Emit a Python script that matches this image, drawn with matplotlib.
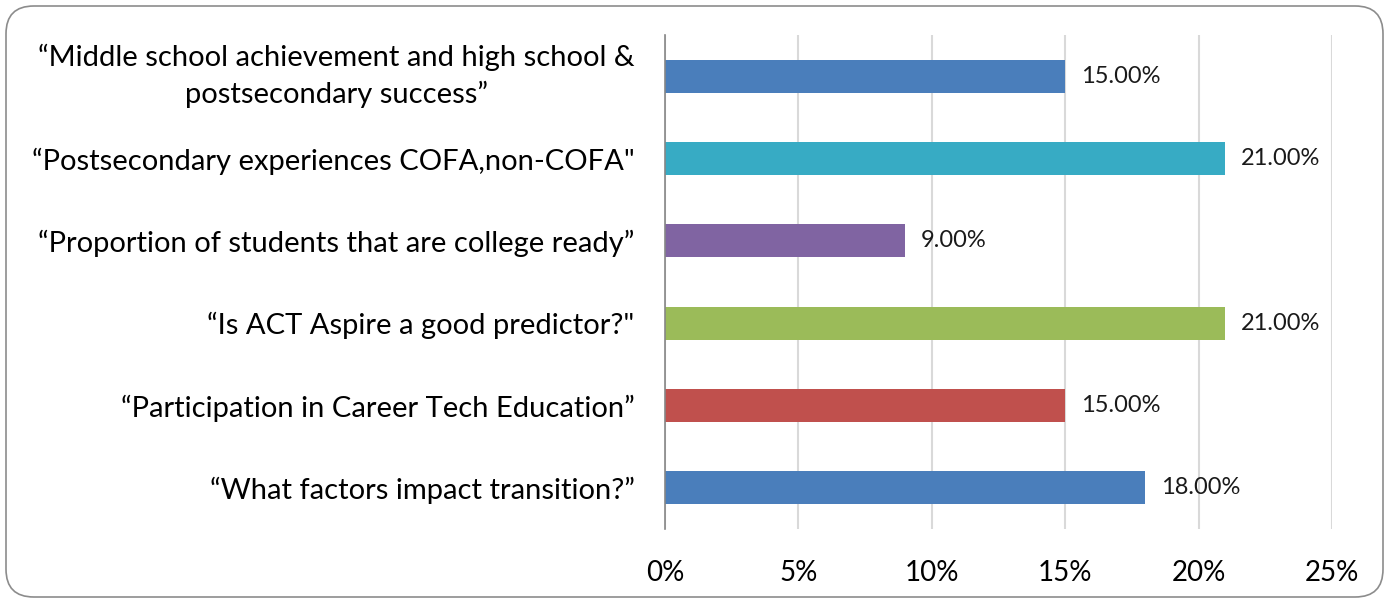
import matplotlib
matplotlib.use("Agg")
import matplotlib.pyplot as plt
from matplotlib.patches import FancyBboxPatch

categories = [
    "\u201cMiddle school achievement and high school &\npostsecondary success\u201d",
    "\u201cPostsecondary experiences COFA,non-COFA\"",
    "\u201cProportion of students that are college ready\u201d",
    "\u201cIs ACT Aspire a good predictor?\"",
    "\u201cParticipation in Career Tech Education\u201d",
    "\u201cWhat factors impact transition?\u201d",
]
values = [15.0, 21.0, 9.0, 21.0, 15.0, 18.0]
colors = ["#4A7EBB", "#37ABC4", "#8064A2", "#9BBB59", "#C0504D", "#4A7EBB"]
xticks = [0, 5, 10, 15, 20, 25]
xtick_labels = ["0%", "5%", "10%", "15%", "20%", "25%"]

plt.rcParams['font.family'] = ['Lato', 'DejaVu Sans']

fig = plt.figure(figsize=(13.89, 6.03), dpi=100)
border = FancyBboxPatch((6/1389, 6/603), 1377/1389, 591/603,
                        boxstyle="round,pad=0,rounding_size=0.02",
                        transform=fig.transFigure, facecolor="none",
                        edgecolor="#8C8C8C", linewidth=1.2, mutation_aspect=1389/603,
                        zorder=-1)
fig.patches.append(border)

ax = fig.add_axes([665/1389, 1 - 529/603, (1332 - 665)/1389, (529 - 35)/603])
ax.set_facecolor("none")
n = len(categories)
ypos = list(range(n))
ax.barh(ypos, values, height=0.4, color=colors, zorder=3)
ax.set_ylim(n - 0.5, -0.5)
ax.set_xlim(0, 25)
ax.set_xticks(xticks)
ax.set_xticklabels(xtick_labels, fontsize=20)
ax.set_yticks(ypos)
ax.set_yticklabels(categories, fontsize=21)
for lbl in ax.get_yticklabels():
    lbl.set_multialignment('center')
    lbl.set_linespacing(1.45)
    if "\n" in lbl.get_text():
        lbl.set_verticalalignment('center')
ax.tick_params(axis='y', length=0, pad=22)
ax.tick_params(axis='x', length=0, pad=22)
ax.grid(axis='x', color="#D9D9D9", linewidth=1.5, zorder=0)
for s in ["top", "right", "bottom"]:
    ax.spines[s].set_visible(False)
ax.spines["left"].set_color("#868686")
ax.spines["left"].set_linewidth(1.2)
ax.spines["left"].set_zorder(4)

for y, v in zip(ypos, values):
    ax.annotate(f"{v:.2f}%", (v, y), xytext=(11.5, 0), textcoords="offset points",
                va="center", ha="left", fontsize=17, color="#1a1a1a")

fig.savefig("out.png", dpi=100)
